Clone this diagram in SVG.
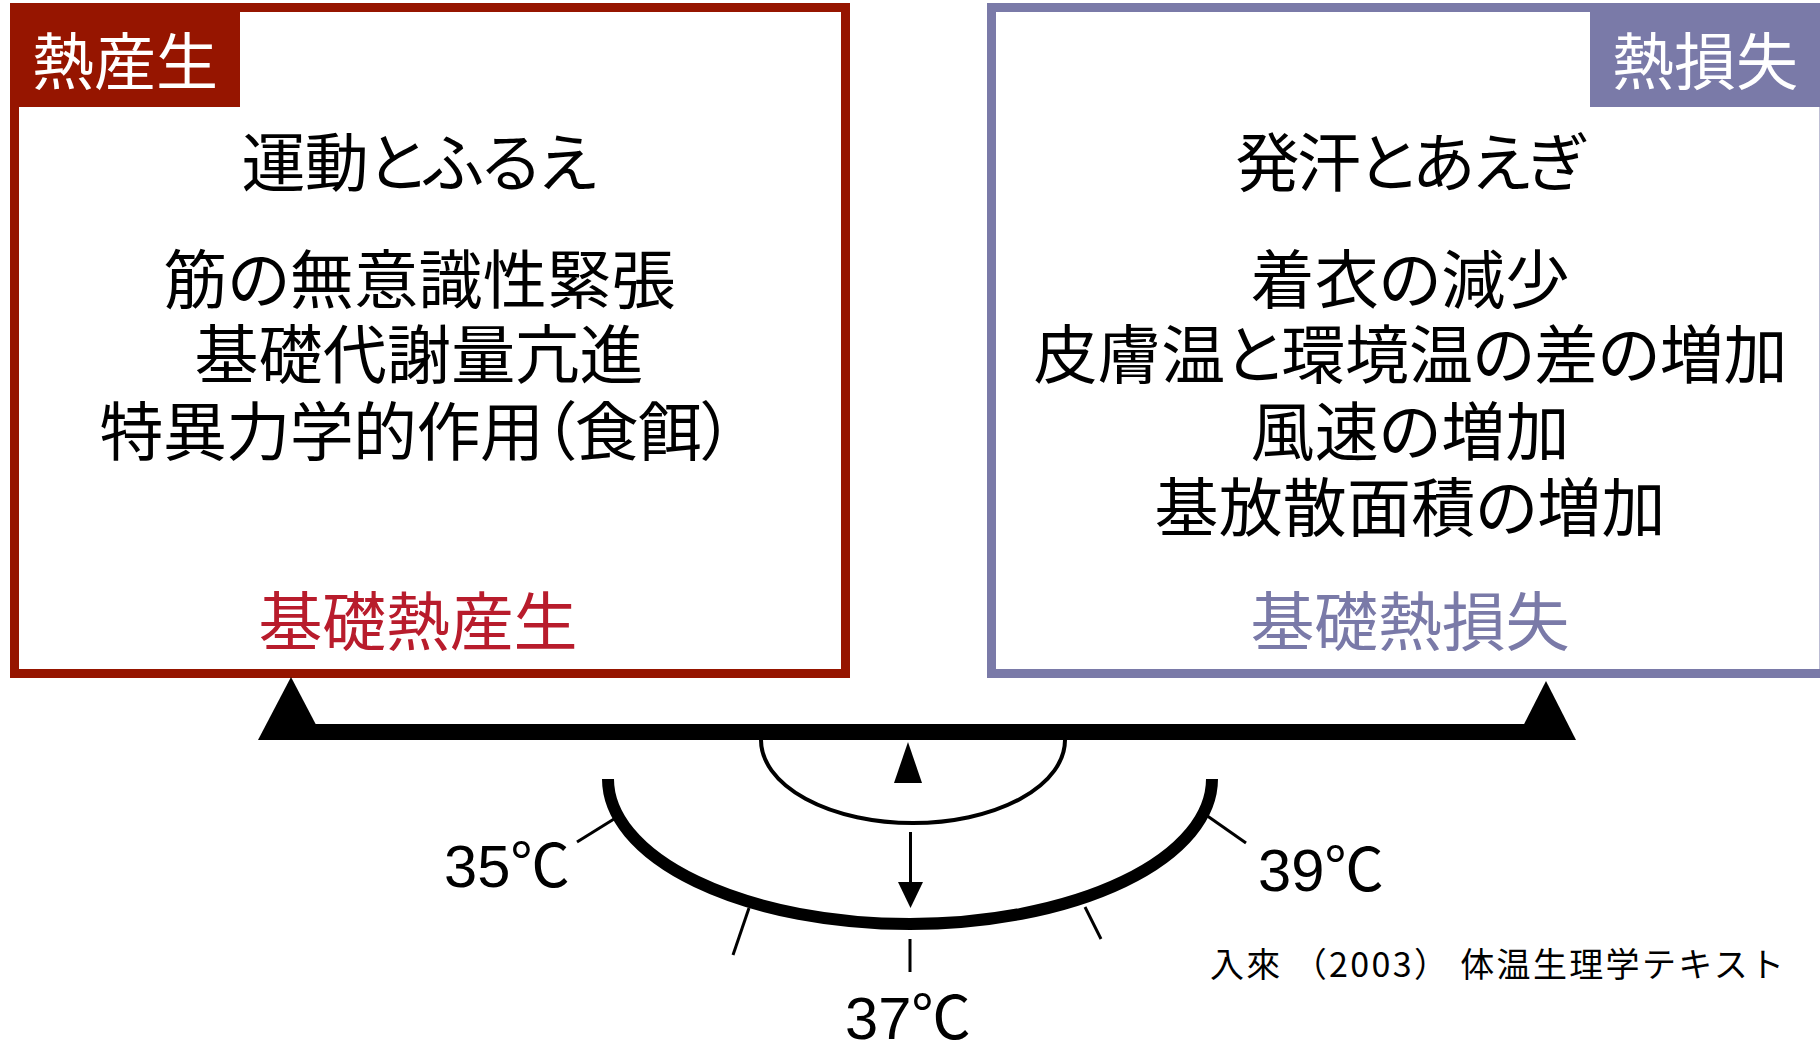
<svg xmlns="http://www.w3.org/2000/svg" width="1820" height="1045" viewBox="0 0 1820 1045">
  <style>
    .jp { font-family: "Noto Sans CJK JP", "Noto Sans CJK SC", sans-serif; font-feature-settings: "palt" 1; }
    .cite { font-family: "Noto Sans CJK JP", "Noto Sans CJK SC", sans-serif; font-size: 34px; fill: #000; }
    .body { font-size: 64px; fill: #000; text-anchor: middle; }
    .tag { font-size: 62px; fill: #fff; text-anchor: middle; }
    .temp { font-family: "Liberation Sans", "Noto Sans CJK JP", sans-serif; font-size: 60px; fill: #000; }
    .thin { stroke: #000; stroke-width: 3; fill: none; }
  </style>
  <rect width="1820" height="1045" fill="#fff"/>

  <g id="heat-production">
    <rect x="14.5" y="7.5" width="831" height="666" fill="#fff" stroke="#961500" stroke-width="9"/>
    <rect x="10" y="3" width="230" height="104" fill="#961500"/>
    <text class="jp tag" x="125" y="85">熱産生</text>
    <text class="jp body" x="419" y="186" textLength="355">運動とふるえ</text>
    <text class="jp body" x="419.5" y="303" textLength="512">筋の無意識性緊張</text>
    <text class="jp body" x="419" y="378" textLength="449">基礎代謝量亢進</text>
    <text class="jp body" x="416.5" y="455" textLength="634">特異力学的作用（食餌）</text>
    <text class="jp body" x="418" y="645" textLength="319" style="fill:#b81c2c">基礎熱産生</text>
  </g>

  <g id="heat-loss">
    <rect x="991.5" y="7.5" width="832.5" height="666" fill="#fff" stroke="#7a7aa8" stroke-width="9"/>
    <rect x="1590" y="3" width="232" height="104" fill="#7a7aa8"/>
    <text class="jp tag" x="1705" y="85">熱損失</text>
    <text class="jp body" x="1409.5" y="186" textLength="348">発汗とあえぎ</text>
    <text class="jp body" x="1410" y="303" textLength="319">着衣の減少</text>
    <text class="jp body" x="1410.5" y="378" textLength="754">皮膚温と環境温の差の増加</text>
    <text class="jp body" x="1410" y="455" textLength="319">風速の増加</text>
    <text class="jp body" x="1410" y="531" textLength="511">基放散面積の増加</text>
    <text class="jp body" x="1410" y="645" textLength="319" style="fill:#7a7aa8">基礎熱損失</text>
  </g>

  <g id="balance-beam">
    <rect x="291" y="724" width="1255" height="16" fill="#000"/>
    <polygon points="291,677 258,740 324,740" fill="#000"/>
    <polygon points="1546,681 1516,740 1576,740" fill="#000"/>
  </g>

  <g id="thermometer-scale">
    <path d="M 608,779 A 302,145 0 0 0 1212,779" fill="none" stroke="#000" stroke-width="12"/>
    <line class="thin" x1="577" y1="842" x2="614" y2="819"/>
    <line class="thin" x1="1206" y1="815" x2="1246" y2="843"/>
    <line class="thin" x1="749" y1="908" x2="733" y2="955"/>
    <line class="thin" x1="1085" y1="907" x2="1101" y2="939"/>
    <line class="thin" x1="910" y1="939" x2="910" y2="972"/>
    <text class="temp" x="444" y="887" textLength="126" lengthAdjust="spacingAndGlyphs">35℃</text>
    <text class="temp" x="845" y="1039" textLength="126" lengthAdjust="spacingAndGlyphs">37℃</text>
    <text class="temp" x="1258" y="891" textLength="126" lengthAdjust="spacingAndGlyphs">39℃</text>
  </g>

  <g id="connectors">
    <path d="M 761,740 A 152,83 0 0 0 1065,740" fill="none" stroke="#000" stroke-width="4"/>
    <polygon points="908,742 894,783 922,783" fill="#000"/>
    <line x1="910.5" y1="832" x2="910.5" y2="885" stroke="#000" stroke-width="3"/>
    <polygon points="898,882 923,882 910.5,908" fill="#000"/>
  </g>

  <g id="citation">
    <text class="cite" x="1210" y="977" textLength="574">入來 （2003） 体温生理学テキスト</text>
  </g>
</svg>
